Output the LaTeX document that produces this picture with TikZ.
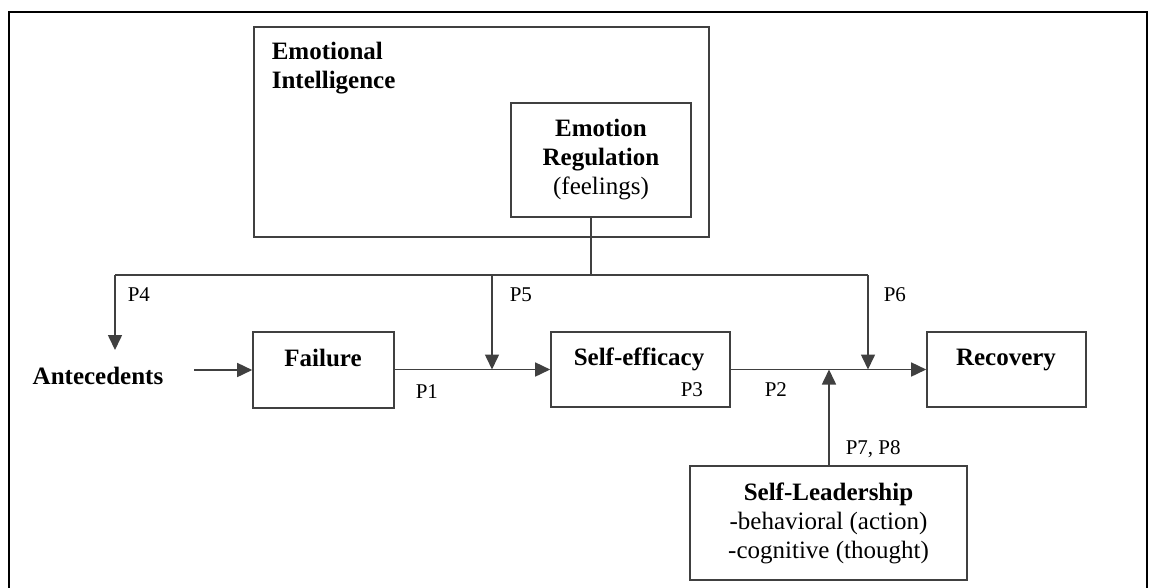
\documentclass[tikz,border=0pt]{standalone}
\usepackage{fontspec}
\setmainfont{Liberation Serif}
\usetikzlibrary{arrows.meta}
\begin{document}
\begin{tikzpicture}[x=1pt,y=-1pt,
  line width=1.6pt,
  boxline/.style={draw=black!75,line width=1.6pt},
  box/.style={boxline,rectangle,inner sep=0pt},
  big/.style={font=\fontsize{25}{29}\selectfont\bfseries,inner sep=0pt},
  plab/.style={font=\fontsize{21}{24}\selectfont,inner sep=0pt,anchor=west},
  conn/.style={draw=black!75,line width=1.6pt},
  arr/.style={conn,-{Triangle[length=15pt,width=14pt]}}
]
\useasboundingbox (0,0) rectangle (1152,587);
% outer frame
\draw[line width=2.2pt] (9,600) -- (9,12) -- (1147,12) -- (1147,600);
% boxes
\node[box,minimum width=455pt,minimum height=210pt] (ei) at (481.5,132) {};
\node[big,anchor=base west] (eit1) at (271,59) {Emotional};
\node[big,anchor=base west] (eit2) at (271,88) {Intelligence};
\node[box,minimum width=180pt,minimum height=114pt,align=center,font=\fontsize{25}{29}\selectfont] (er) at (601,160)
  {\textbf{Emotion}\\\textbf{Regulation}\\(feelings)};
\node[box,minimum width=141pt,minimum height=76pt] (fail) at (323.5,370) {};
\node[big,anchor=base] (failt) at (323,366) {Failure};
\node[box,minimum width=179pt,minimum height=75pt] (se) at (640.5,369.5) {};
\node[big,anchor=base] (set) at (639,365) {Self-efficacy};
\node[box,minimum width=159pt,minimum height=75pt] (rec) at (1006.5,369.5) {};
\node[big,anchor=base] (rect) at (1006,365) {Recovery};
\node[box,minimum width=277pt,minimum height=114pt,align=center,font=\fontsize{25}{29}\selectfont] (sl) at (828.5,523)
  {\textbf{Self-Leadership}\\-behavioral (action)\\-cognitive (thought)};
\node[big,anchor=base] (ante) at (98,384) {Antecedents};
% coordinates
\coordinate (j) at (591,275);
\coordinate (l4) at (115,275);
\coordinate (l6) at (868,275);
\coordinate (t4) at (115,350);
\coordinate (a0) at (194,370);
\coordinate (x5) at (492,275);
\coordinate (x7) at (829,466);
% connectors
\draw[conn] (er.south -| j) -- (j);
\draw[conn] (l4) -- (l6);
\draw[arr] (l4) -- (t4);
\draw[arr] (a0) -- (fail.west |- a0);
\draw[arr] (fail.east |- se.west) -- (se.west);
\draw[arr] (x5) -- (x5 |- se.west);
\draw[arr] (se.east) -- (rec.west);
\draw[arr] (l6) -- (l6 |- rec.west);
\draw[arr] (x7) -- (x7 |- se.east);
% labels
\node[plab] (p4) at (127,295) {P4};
\node[plab] (p5) at (509,295) {P5};
\node[plab] (p6) at (883,295) {P6};
\node[plab] (p1) at (415,392) {P1};
\node[plab] (p2) at (764,390) {P2};
\node[plab] (p3) at (680,390) {P3};
\node[plab] (p78) at (845,449) {P7, P8};
\end{tikzpicture}
\end{document}
